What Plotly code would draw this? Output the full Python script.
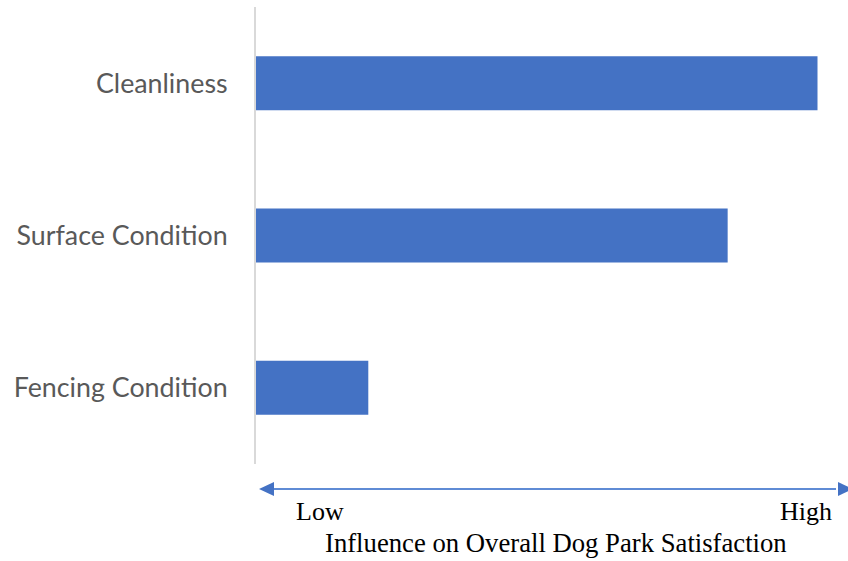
import plotly.graph_objects as go

categories = ["Fencing Condition", "Surface Condition", "Cleanliness"]
values = [1.0, 4.2, 5.0]
axis_low_label = "Low"
axis_high_label = "High"
axis_title = "Influence on Overall Dog Park Satisfaction"

W, H = 848, 561
plot_left, plot_top, plot_bottom, plot_right = 256, 7, 464, 848
L, T, B, R = plot_left, plot_top, H - plot_bottom, W - plot_right
pw, ph = W - L - R, H - T - B

def px(x):
    return (x - plot_left) / pw

def py(y):
    return (plot_bottom - y) / ph

fig = go.Figure(go.Bar(
    y=categories, x=values, orientation="h",
    marker=dict(color="#4472C4", line=dict(width=0)),
    width=0.354,
))

blue = "#4472C4"
line_blue = "#5F8BD5"
ay = 489
shapes = [
    dict(type="line", xref="paper", yref="paper", x0=px(268), x1=px(836), y0=py(ay), y1=py(ay),
         line=dict(color=line_blue, width=2)),
    dict(type="path", xref="paper", yref="paper",
         path=f"M {px(259)},{py(ay)} L {px(274)},{py(ay-7)} L {px(274)},{py(ay+7)} Z",
         fillcolor=blue, line=dict(width=0)),
    dict(type="path", xref="paper", yref="paper",
         path=f"M {px(853)},{py(ay)} L {px(838)},{py(ay-7)} L {px(838)},{py(ay+7)} Z",
         fillcolor=blue, line=dict(width=0)),
]

serif = dict(family="Liberation Serif, Times New Roman, serif", size=26, color="#000000")
title_font = dict(serif, size=26.7)
annotations = [
    dict(text=axis_low_label, xref="paper", yref="paper", x=px(320), y=py(511),
         showarrow=False, font=serif, xanchor="center", yanchor="middle"),
    dict(text=axis_high_label, xref="paper", yref="paper", x=px(806), y=py(511),
         showarrow=False, font=serif, xanchor="center", yanchor="middle"),
    dict(text=axis_title, xref="paper", yref="paper", x=px(556), y=py(543),
         showarrow=False, font=title_font, xanchor="center", yanchor="middle"),
]

fig.update_layout(
    width=W, height=H,
    margin=dict(l=L, r=R, t=T, b=B, pad=0),
    plot_bgcolor="white", paper_bgcolor="white",
    showlegend=False,
    shapes=shapes, annotations=annotations,
    xaxis=dict(range=[0, pw / 112.3], visible=False, showgrid=False, zeroline=False),
    yaxis=dict(
        showgrid=False, zeroline=False,
        showline=True, linecolor="#D9D9D9", linewidth=2,
        ticks="", ticklabelstandoff=21,
        tickfont=dict(family="Lato, Noto Sans, sans-serif", size=26.8, color="#595959"),
        range=[-0.5, 2.5],
    ),
    bargap=0.646,
)

fig.write_html(
    "out.html",
    config={"displayModeBar": False},
    post_script="document.body.style.margin='0';document.body.style.overflow='hidden';",
)
